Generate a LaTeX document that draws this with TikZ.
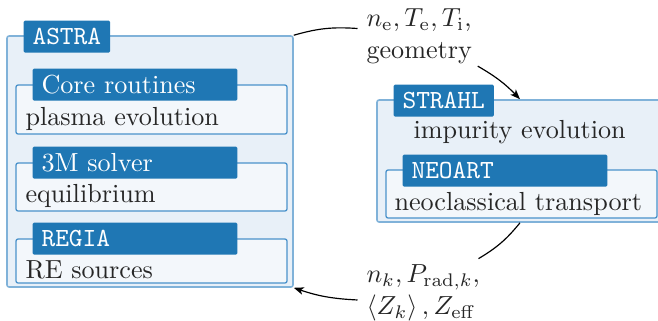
\documentclass[tikz,border=0pt]{standalone}
\usetikzlibrary{arrows.meta,fit}
\definecolor{cblue}{HTML}{1F77B4}
\definecolor{outerfill}{HTML}{E8F0F8}
\definecolor{innerfill}{HTML}{F3F7FB}
\definecolor{outerdraw}{HTML}{80B2D9}
\definecolor{innerdraw}{HTML}{4A92CB}
\definecolor{textgray}{HTML}{262626}
\begin{document}
\begin{tikzpicture}[x=0.3825pt,y=-0.3825pt,
  every node/.style={text=textgray},
  outerbox/.style={draw=outerdraw, fill=outerfill, rounded corners=0.8pt, line width=0.6pt, inner sep=0pt},
  innerbox/.style={draw=innerdraw, fill=innerfill, rounded corners=0.8pt, line width=0.5pt, inner sep=0pt},
  tag/.style={fill=cblue, text=white, rounded corners=0.6pt, inner xsep=3.45pt, inner ysep=0pt, minimum height=12.3pt, anchor=north west},
  widetag/.style={tag, text width=71.5pt, align=left},
  body/.style={inner sep=0pt, anchor=base west},
  datalab/.style={align=left, inner sep=3.25pt, anchor=north west},
  conn/.style={line width=0.45pt, black},
  tip/.style={-{Stealth[length=3.8pt,width=2.9pt,inset=1pt]}}
]
\useasboundingbox (0,0) rectangle (658,320);

% ASTRA
\node[outerbox, fit={(7,36)(293,287)}] (astra) {};
\node[tag] (astratag) at (23,20) {\ttfamily ASTRA};

\node[innerbox, fit={(16,85)(287,134)}] (core) {};
\node[widetag] (coretag) at (32,68) {Core routines};
\node[body] (coretext) at (25,125) {plasma evolution};

\node[innerbox, fit={(16,163)(287,211)}] (eq) {};
\node[widetag] (eqtag) at (32,146) {3M solver};
\node[body] (eqtext) at (25,202) {equilibrium};

\node[innerbox, fit={(16,239)(287,283)}] (regia) {};
\node[widetag] (regiatag) at (32,222) {\ttfamily REGIA};
\node[body] (regiatext) at (25,278) {RE sources};

% STRAHL
\node[outerbox, fit={(377,100)(663,222)}] (strahl) {};
\node[tag] (strahltag) at (393,84) {\ttfamily STRAHL};
\node[body] (strahltext) at (413,138) {impurity evolution};

\node[innerbox, fit={(386,170)(657,218)}] (neoart) {};
\node[widetag] (neoarttag) at (402,154) {\ttfamily NEOART};
\node[body] (neoarttext) at (394,210) {neoclassical transport};

% data labels
\node[datalab] (toplab) at (357.5,0) {$n_\mathrm{e}, T_\mathrm{e}, T_\mathrm{i}$,\\geometry};
\node[datalab] (botlab) at (357.5,256) {$n_k, P_{\mathrm{rad},k}$,\\$\left\langle Z_k \right\rangle, Z_\mathrm{eff}$};

% connectors
\draw[conn] (astra.north east) to[bend left=10] ([yshift=3pt]toplab.west);
\draw[conn, tip] ([xshift=-1.2pt,yshift=2.5pt]toplab.south east) to[bend left=8] (strahl.north);
\draw[conn] (strahl.south) to[bend left=10] ([xshift=-4pt,yshift=-1pt]botlab.north east);
\draw[conn, tip] ([yshift=-2.7pt]botlab.west) to[bend left=8] (astra.south east);
\end{tikzpicture}
\end{document}
